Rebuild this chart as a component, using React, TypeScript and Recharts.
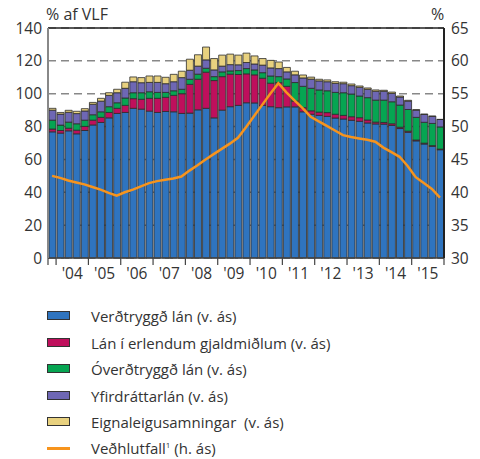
import {
  ComposedChart,
  Bar,
  Line,
  XAxis,
  YAxis,
  CartesianGrid,
  ReferenceLine,
} from "recharts";

// Ársfjórðungar, 2003F4 - 2015F4
const quarters = [
  "2003Q4",
  "2004Q1", "2004Q2", "2004Q3", "2004Q4",
  "2005Q1", "2005Q2", "2005Q3", "2005Q4",
  "2006Q1", "2006Q2", "2006Q3", "2006Q4",
  "2007Q1", "2007Q2", "2007Q3", "2007Q4",
  "2008Q1", "2008Q2", "2008Q3", "2008Q4",
  "2009Q1", "2009Q2", "2009Q3", "2009Q4",
  "2010Q1", "2010Q2", "2010Q3", "2010Q4",
  "2011Q1", "2011Q2", "2011Q3", "2011Q4",
  "2012Q1", "2012Q2", "2012Q3", "2012Q4",
  "2013Q1", "2013Q2", "2013Q3", "2013Q4",
  "2014Q1", "2014Q2", "2014Q3", "2014Q4",
  "2015Q1", "2015Q2", "2015Q3", "2015Q4",
];

// % af VLF (v. ás)
const verdtryggd = [
  76.8, 76.0, 77.4, 75.6, 77.6, 81.0, 82.5, 85.3, 88.0, 88.6, 91.1, 90.6, 89.4,
  88.6, 89.2, 89.0, 88.0, 88.2, 90.2, 91.1, 85.3, 90.0, 92.1, 92.9, 94.5, 94.4,
  92.9, 92.1, 91.5, 92.0, 92.0, 89.0, 87.5, 86.8, 86.2, 85.2, 84.6, 83.8, 83.2,
  82.2, 81.6, 81.5, 80.7, 78.8, 76.5, 71.3, 69.4, 68.0, 65.9,
];
const erlend = [
  1.7, 1.6, 1.6, 2.2, 2.5, 2.9, 3.1, 3.3, 3.1, 4.3, 5.9, 6.0, 7.8, 8.6, 8.6,
  10.0, 12.0, 17.5, 18.6, 22.0, 22.7, 20.4, 19.8, 18.8, 17.6, 17.1, 16.5, 14.3,
  15.2, 12.5, 3.5, 2.5, 2.1, 2.0, 2.3, 2.3, 2.2, 2.2, 2.2, 1.8, 1.1, 1.0, 1.0,
  0.8, 0.7, 0.5, 0.5, 0.4, 0.4,
];
const overdtryggd = [
  5.4, 3.3, 3.7, 3.9, 3.8, 3.3, 3.4, 3.5, 3.4, 4.5, 3.6, 4.0, 4.0, 3.6, 3.0,
  2.8, 2.7, 3.1, 3.1, 2.4, 2.4, 2.9, 2.0, 2.4, 3.2, 3.0, 3.4, 4.4, 3.7, 4.5,
  11.3, 13.0, 13.7, 13.5, 13.3, 13.3, 13.8, 13.8, 13.2, 13.6, 13.4, 13.6, 13.4,
  13.5, 13.2, 13.8, 12.7, 13.5, 13.5,
];
const yfirdrattur = [
  6.1, 6.7, 6.0, 6.2, 5.6, 6.4, 6.5, 6.9, 6.1, 5.9, 6.7, 6.1, 5.7, 6.1, 5.3,
  5.5, 7.1, 5.5, 4.9, 5.1, 4.1, 3.5, 3.8, 3.5, 3.7, 3.6, 4.6, 4.9, 4.9, 4.3,
  4.7, 5.1, 5.6, 5.5, 5.5, 5.5, 5.5, 5.1, 5.3, 5.1, 5.4, 5.4, 5.1, 4.9, 5.1,
  4.4, 4.8, 4.3, 4.5,
];
const eignaleiga = [
  1.1, 1.0, 1.2, 1.4, 1.4, 1.1, 1.7, 1.6, 2.1, 3.7, 2.9, 3.1, 3.9, 3.9, 3.9,
  4.5, 3.9, 6.7, 6.9, 7.8, 6.9, 6.7, 6.4, 5.9, 5.7, 4.9, 4.0, 4.6, 4.0, 2.7,
  2.2, 1.8, 1.2, 1.0, 1.1, 1.0, 0.9, 1.0, 0.8, 0.8, 0.8, 0.6, 0.8, 0.6, 0.5,
  0.3, 0.2, 0.2, 0.1,
];
// Veðhlutfall, % (h. ás)
const vedhlutfall = [
  42.5, 42.2, 41.8, 41.5, 41.2, 40.8, 40.4, 39.9, 39.5, 40.0, 40.4, 40.9, 41.4,
  41.7, 41.9, 42.1, 42.4, 43.3, 44.1, 45.0, 45.8, 46.6, 47.4, 48.3, 49.9, 51.6,
  53.3, 55.0, 56.6, 55.2, 54.0, 52.8, 51.5, 50.8, 50.1, 49.4, 48.7, 48.4, 48.2,
  48.0, 47.7, 46.8, 46.1, 45.4, 44.0, 42.3, 41.4, 40.5, 39.2,
];

const leftTicks = [0, 20, 40, 60, 80, 100, 120, 140];
const rightTicks = [30, 35, 40, 45, 50, 55, 60, 65];
const yearTicks = [
  2003.75, 2004, 2005, 2006, 2007, 2008, 2009, 2010, 2011, 2012, 2013, 2014,
  2015, 2016,
];

const legendItems = [
  { label: "Verðtryggð lán (v. ás)", color: "#2f74bf" },
  { label: "Lán í erlendum gjaldmiðlum (v. ás)", color: "#bf0f5c" },
  { label: "Óverðtryggð lán (v. ás)", color: "#06a552" },
  { label: "Yfirdráttarlán (v. ás)", color: "#6e67b4" },
  { label: "Eignaleigusamningar  (v. ás)", color: "#e8d17f" },
];

const quarterX = (q: string) =>
  Number(q.slice(0, 4)) + (Number(q.slice(5)) - 1) / 4 + 0.125;

const data = quarters.map((q, i) => ({
  x: quarterX(q),
  verdtryggd: verdtryggd[i],
  erlend: erlend[i],
  overdtryggd: overdtryggd[i],
  yfirdrattur: yfirdrattur[i],
  eignaleiga: eignaleiga[i],
  vedhlutfall: vedhlutfall[i],
}));

const FONT = "'Open Sans', sans-serif";
const TEXT = "#333";
const PLOT_W = 396;
const YEAR_PX = PLOT_W / (2016 - 2003.75);

function YearTick(props: any) {
  const { x, y, payload } = props;
  const v = payload.value as number;
  const isYear = Number.isInteger(v) && v < 2016;
  return (
    <g>
      <line x1={x} x2={x} y1={y} y2={y + 7} stroke="#444" strokeWidth={1.2} />
      {isYear ? (
        <text
          x={x + YEAR_PX / 2}
          y={y + 21}
          textAnchor="middle"
          fill={TEXT}
          fontSize={15.5}
          fontFamily={FONT}
        >
          {"'" + String(v).slice(2)}
        </text>
      ) : null}
    </g>
  );
}

const barStroke = "#2b2b2b";
const tickStyle = { fill: TEXT, fontSize: 15.5, fontFamily: FONT };

export default function App() {
  return (
    <div
      style={{
        position: "absolute",
        left: 0,
        top: 0,
        width: 480,
        height: 459,
        background: "#fff",
        fontFamily: FONT,
        color: TEXT,
      }}
    >
      <div style={{ position: "absolute", left: 46, top: 3, fontSize: 16 }}>
        % af VLF
      </div>
      <div style={{ position: "absolute", left: 431, top: 3, fontSize: 16 }}>
        %
      </div>
      <ComposedChart
        width={480}
        height={290}
        data={data}
        margin={{ top: 28, right: 0, left: 0, bottom: 0 }}
      >
        <CartesianGrid
          yAxisId="left"
          vertical={false}
          stroke="#888"
          strokeWidth={1.5}
          strokeDasharray="8 5"
        />
        <XAxis
          dataKey="x"
          type="number"
          domain={[2003.75, 2016]}
          ticks={yearTicks}
          interval={0}
          allowDataOverflow
          height={32}
          tickSize={0}
          tickMargin={0}
          tickLine={false}
          axisLine={{ stroke: "#444", strokeWidth: 1.5 }}
          tick={<YearTick />}
        />
        <YAxis
          yAxisId="left"
          domain={[0, 140]}
          ticks={leftTicks}
          interval={0}
          width={48}
          tickSize={0}
          tickMargin={6}
          tickLine={false}
          axisLine={{ stroke: "#888", strokeWidth: 2 }}
          tick={tickStyle}
        />
        <YAxis
          yAxisId="right"
          orientation="right"
          domain={[30, 65]}
          ticks={rightTicks}
          interval={0}
          width={36}
          tickSize={0}
          tickMargin={7}
          tickLine={false}
          axisLine={{ stroke: "#222", strokeWidth: 2 }}
          tick={{ ...tickStyle, textAnchor: "start" }}
        />
        <Bar yAxisId="left" dataKey="verdtryggd" stackId="a" barSize={7} fill="#2f74bf" stroke={barStroke} strokeWidth={0.8} isAnimationActive={false} />
        <Bar yAxisId="left" dataKey="erlend" stackId="a" barSize={7} fill="#bf0f5c" stroke={barStroke} strokeWidth={0.8} isAnimationActive={false} />
        <Bar yAxisId="left" dataKey="overdtryggd" stackId="a" barSize={7} fill="#06a552" stroke={barStroke} strokeWidth={0.8} isAnimationActive={false} />
        <Bar yAxisId="left" dataKey="yfirdrattur" stackId="a" barSize={7} fill="#6e67b4" stroke={barStroke} strokeWidth={0.8} isAnimationActive={false} />
        <Bar yAxisId="left" dataKey="eignaleiga" stackId="a" barSize={7} fill="#e8d17f" stroke={barStroke} strokeWidth={0.8} isAnimationActive={false} />
        <Line
          yAxisId="right"
          dataKey="vedhlutfall"
          type="linear"
          stroke="#f7941d"
          strokeWidth={2.5}
          dot={false}
          isAnimationActive={false}
        />
        <ReferenceLine yAxisId="left" y={140} stroke="#222" strokeWidth={1.5} />
      </ComposedChart>
      {legendItems.map((item, i) => (
        <div
          key={item.label}
          style={{ position: "absolute", left: 0, top: 306 + i * 26.6, height: 20, width: 480 }}
        >
          <div
            style={{
              position: "absolute",
              left: 47,
              top: 5,
              width: 21,
              height: 7,
              background: item.color,
              border: "1px solid #333",
            }}
          />
          <div style={{ position: "absolute", left: 91, top: 0, fontSize: 15, lineHeight: "20px", whiteSpace: "pre" }}>
            {item.label}
          </div>
        </div>
      ))}
      <div style={{ position: "absolute", left: 0, top: 438, height: 20, width: 480 }}>
        <div style={{ position: "absolute", left: 47, top: 9, width: 23, height: 3, background: "#f7941d" }} />
        <div style={{ position: "absolute", left: 91, top: 0, fontSize: 15, lineHeight: "20px", whiteSpace: "pre" }}>
          Veðhlutfall
          <span style={{ fontSize: 8, position: "relative", top: -6 }}>1</span>
          {" (h. ás)"}
        </div>
      </div>
    </div>
  );
}
